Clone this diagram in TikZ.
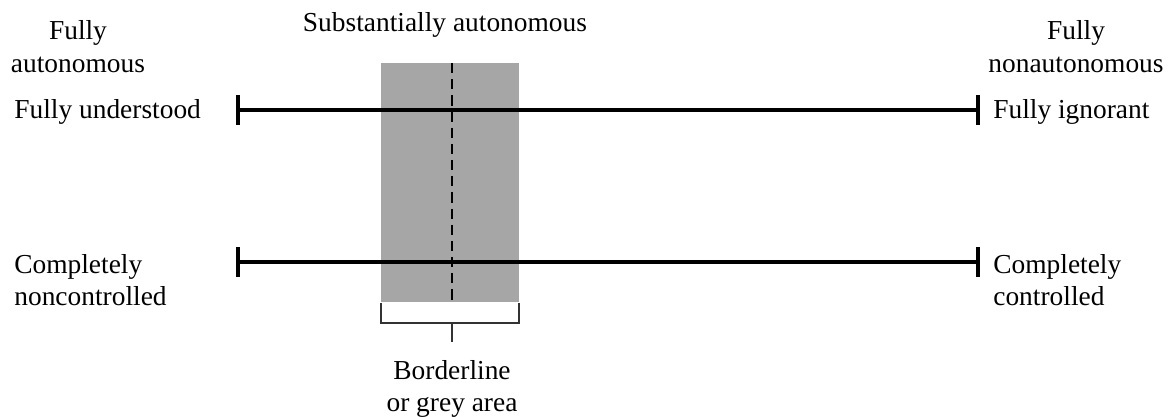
\documentclass[tikz,border=0pt]{standalone}
\usepackage{fontspec}
\setmainfont{Liberation Serif}
\usetikzlibrary{arrows.meta}
\definecolor{greyarea}{RGB}{166,166,166}
\tikzset{
  lbl/.style={inner sep=0pt, font=\fontsize{15.6}{18.4}\selectfont},
  scaleline/.style={line width=2.2pt, {Bar[width=17pt,length=2.2pt]}-{Bar[width=17pt,length=2.2pt]}},
  brk/.style={line width=0.8pt, black!80}
}
\begin{document}
\begin{tikzpicture}
      \useasboundingbox (0,0) rectangle (23.4,8.34);
      % sedy pas
      \fill[greyarea] (7.62,2.30) rectangle (10.38,7.08);
      \coordinate (mtop) at (9.04,7.08);
      \coordinate (mbot) at (9.04,2.30);
      \draw[line width=1.7pt, dash pattern=on 5.8pt off 3.4pt] (mtop) -- (mbot);
      % stupnice
      \coordinate (u1) at (4.72,6.14);
      \coordinate (u2) at (19.6,6.14);
      \coordinate (c1) at (4.72,3.10);
      \coordinate (c2) at (19.6,3.10);
      \draw[scaleline] (u1) -- (u2);
      \draw[scaleline] (c1) -- (c2);
      % popisky hore
      \node[lbl, align=center] (fa) at (1.56,7.41) {Fully\\autonomous};
      \node[lbl] (sa) at (8.9,7.84) {Substantially autonomous};
      \node[lbl, align=center] (fn) at (21.52,7.41) {Fully\\nonautonomous};
      % popisky koncov
      \node[lbl, anchor=west] (fu) at (0.28,6.10) {Fully understood};
      \node[lbl, anchor=west] (fi) at (19.86,6.10) {Fully ignorant};
      \node[lbl, anchor=west, align=left] (cn) at (0.28,2.74) {Completely\\noncontrolled};
      \node[lbl, anchor=west, align=left] (cc) at (19.86,2.74) {Completely\\controlled};
      % zatvorka
      \coordinate (b1) at (7.62,2.28);
      \coordinate (b2) at (10.38,2.28);
      \coordinate (bm) at (9.04,1.88);
      \coordinate (tk) at (9.04,1.50);
      \draw[brk] (b1) |- (bm) -| (b2);
      \draw[brk] (bm) -- (tk);
      \node[lbl, align=center] (bl) at (9.04,0.56) {Borderline\\or grey area};
    \end{tikzpicture}
\end{document}
